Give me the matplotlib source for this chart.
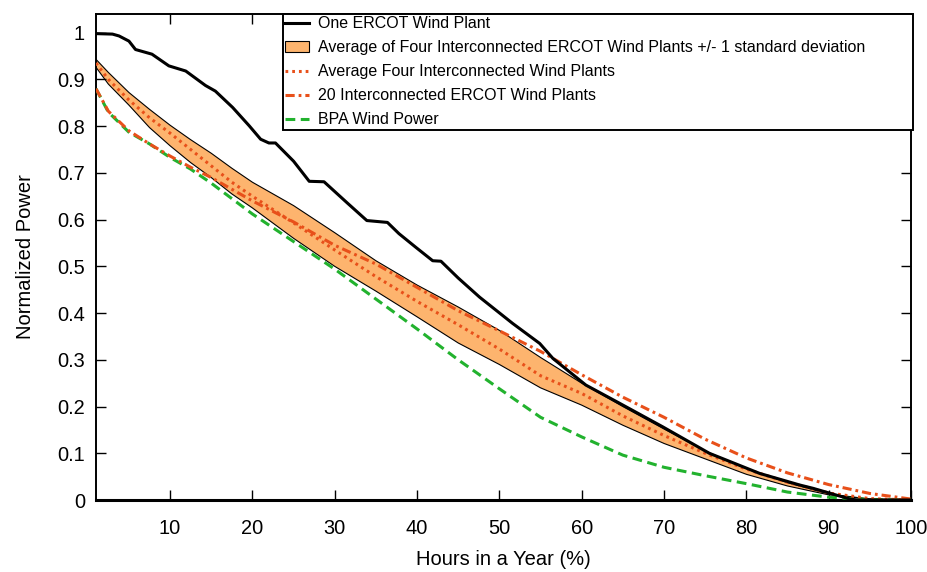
import matplotlib
matplotlib.use("Agg")
import matplotlib.pyplot as plt
from matplotlib.patches import Patch
from matplotlib.lines import Line2D
import numpy as np

plt.rcParams['font.family'] = ['Liberation Sans', 'DejaVu Sans']

# Hours in a year (%) for the smooth curves
hours = [1, 2.5, 5, 7.5, 10, 12.5, 15, 17.5, 20, 25, 30, 35, 40, 45, 50, 55, 60,
         65, 70, 75, 80, 85, 90, 95, 100]

band_upper = [0.943, 0.915, 0.872, 0.836, 0.802, 0.771, 0.742, 0.710, 0.680, 0.630,
              0.572, 0.512, 0.460, 0.413, 0.363, 0.305, 0.250, 0.200, 0.152, 0.105,
              0.067, 0.037, 0.013, 0.002, 0.0]
band_lower = [0.926, 0.890, 0.845, 0.797, 0.758, 0.722, 0.690, 0.655, 0.625, 0.560,
              0.500, 0.447, 0.392, 0.336, 0.290, 0.240, 0.203, 0.160, 0.121, 0.088,
              0.055, 0.030, 0.011, 0.002, 0.0]
avg_four = [0.935, 0.900, 0.856, 0.818, 0.785, 0.750, 0.715, 0.680, 0.650, 0.593,
            0.535, 0.478, 0.425, 0.375, 0.323, 0.266, 0.228, 0.180, 0.138, 0.100,
            0.066, 0.038, 0.015, 0.003, 0.0]
twenty_plants = [0.880, 0.832, 0.790, 0.762, 0.736, 0.712, 0.690, 0.665, 0.640, 0.595,
                 0.545, 0.505, 0.455, 0.405, 0.362, 0.318, 0.268, 0.220, 0.177, 0.130,
                 0.090, 0.058, 0.033, 0.014, 0.002]
bpa = [0.880, 0.830, 0.787, 0.762, 0.733, 0.708, 0.678, 0.645, 0.612, 0.553,
       0.494, 0.430, 0.366, 0.300, 0.238, 0.177, 0.135, 0.096, 0.070, 0.052,
       0.035, 0.017, 0.006, 0.001, 0.0]

# One ERCOT wind plant (stepped / irregular curve)
one_hours = [1, 3.0, 3.8, 5.0, 5.8, 7.8, 9.85, 11.9, 14.3, 15.5, 17.6, 19.6, 21.0,
             22.0, 22.8, 25.0, 26.9, 28.7, 31.5, 33.9, 36.4, 37.8, 39.9, 41.9, 42.9,
             45.0, 47.6, 51.6, 54.9, 56.5, 60.5, 64.6, 69.8, 75.5, 81.6, 86.5, 88.1,
             92.6, 93.5, 100]
one_plant = [0.998, 0.997, 0.993, 0.982, 0.964, 0.954, 0.929, 0.918, 0.887, 0.875,
             0.840, 0.801, 0.772, 0.764, 0.764, 0.725, 0.682, 0.681, 0.636, 0.598,
             0.594, 0.570, 0.540, 0.512, 0.511, 0.475, 0.434, 0.378, 0.335, 0.303,
             0.246, 0.207, 0.157, 0.100, 0.057, 0.032, 0.025, 0.002, 0.0, 0.0]

labels = ["One ERCOT Wind Plant",
          "Average of Four Interconnected ERCOT Wind Plants +/- 1 standard deviation",
          "Average Four Interconnected Wind Plants",
          "20 Interconnected ERCOT Wind Plants",
          "BPA Wind Power"]

xticks = [10, 20, 30, 40, 50, 60, 70, 80, 90, 100]
yticks = [0, 0.1, 0.2, 0.3, 0.4, 0.5, 0.6, 0.7, 0.8, 0.9, 1]

orange_fill = '#FDB46E'
red_orange = '#E8501A'
green = '#22B22E'

fig = plt.figure(figsize=(9.28, 5.72), dpi=100)
ax = fig.add_axes([96/928, 1 - 500/572, (911 - 96)/928, (500 - 14)/572])

ax.fill_between(hours, band_lower, band_upper, facecolor=orange_fill, edgecolor='none', zorder=1)
ax.plot(hours, band_upper, color='black', lw=0.8, zorder=2)
ax.plot(hours, band_lower, color='black', lw=0.8, zorder=2)
ax.plot(hours, bpa, color=green, lw=2.2, dashes=(3.2, 1.8), zorder=3)
ax.plot(hours, avg_four, color=red_orange, lw=2.2, dashes=(0.9, 1.3), zorder=4)
ax.plot(hours, twenty_plants, color=red_orange, lw=2.2, dashes=(3.0, 1.3, 0.9, 1.3), zorder=4)
ax.plot(one_hours, one_plant, color='black', lw=2.2, zorder=5)

ax.set_xlim(1, 100)
ax.set_ylim(0, 1.04)
ax.set_xticks(xticks)
ax.set_xticklabels([str(t) for t in xticks])
ax.set_yticks(yticks)
ax.set_yticklabels(['%g' % t for t in yticks])
ax.tick_params(direction='in', top=True, right=True, length=7.5, width=1,
               labelsize=14.4)
ax.tick_params(axis='x', pad=14)
ax.tick_params(axis='y', pad=8)
for s in ax.spines.values():
    s.set_linewidth(1.4)
ax.spines['bottom'].set_linewidth(2.2)

ax.set_xlabel("Hours in a Year (%)", fontsize=14.5, labelpad=8)
ax.set_ylabel("Normalized Power", fontsize=14.5, labelpad=16)

handles = [Line2D([], [], color='black', lw=2.2),
           Patch(facecolor=orange_fill, edgecolor='black', lw=0.8),
           Line2D([], [], color=red_orange, lw=2.2, dashes=(0.9, 1.3)),
           Line2D([], [], color=red_orange, lw=2.2, dashes=(3.0, 1.3, 0.9, 1.3)),
           Line2D([], [], color=green, lw=2.2, dashes=(3.2, 1.8))]
leg_left = (283 - 96) / 815
leg_width = (913 - 283) / 815
leg = ax.legend(handles, labels, loc='upper left',
                bbox_to_anchor=(leg_left, 1.0, leg_width, 0.0), mode='expand',
                fontsize=11.5, frameon=True, fancybox=False, framealpha=1,
                edgecolor='black', borderaxespad=0, handlelength=1.5,
                handletextpad=0.55, labelspacing=0.56, borderpad=0.15)
leg.get_frame().set_linewidth(1.4)

fig.savefig("out.png", dpi=100)
